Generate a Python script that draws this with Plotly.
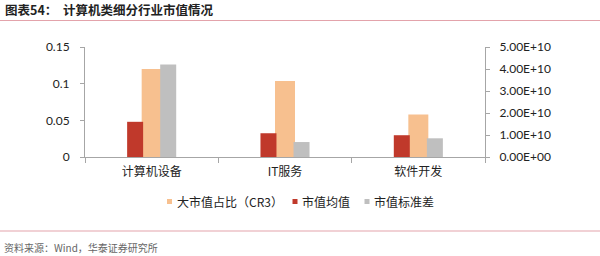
import plotly.graph_objects as go

categories = ["计算机设备", "IT服务", "软件开发"]
cr3_share = [0.120, 0.1035, 0.058]          # 大市值占比（CR3）, left axis
mcap_mean = [1.60e10, 1.08e10, 0.99e10]     # 市值均值, right axis
mcap_std = [4.21e10, 0.68e10, 0.85e10]      # 市值标准差, right axis
left_ticks = [0, 0.05, 0.1, 0.15]
left_ticktext = ["0", "0.05", "0.1", "0.15"]
right_ticks = [0, 1e10, 2e10, 3e10, 4e10, 5e10]

C_ORANGE = "#f7c08f"
C_RED = "#c0392b"
C_GREY = "#bfbfbf"
AX = "#a6a6a6"
NUM_FONT = "Lato, Liberation Sans, sans-serif"
CJK = "Noto Sans CJK SC, sans-serif"

# plot area in px
L, R, T, B = 85, 485, 47, 157
W, H = 600, 256
def px(x):
    return (x - L) / (R - L)
def py(y):
    return (B - y) / (B - T)

fig = go.Figure()
fig.add_trace(go.Bar(x=categories, y=cr3_share, name="大市值占比（CR3）",
                     marker=dict(color=C_ORANGE, line=dict(width=0)),
                     width=0.15, offset=-0.075, yaxis="y", showlegend=False))
fig.add_trace(go.Bar(x=categories, y=mcap_mean, name="市值均值",
                     marker=dict(color=C_RED, line=dict(width=0)),
                     width=0.12, offset=-0.184, yaxis="y2", showlegend=False))
fig.add_trace(go.Bar(x=categories, y=mcap_std, name="市值标准差",
                     marker=dict(color=C_GREY, line=dict(width=0)),
                     width=0.12, offset=0.064, yaxis="y2", showlegend=False))

shapes = []
annotations = []

# title and rules
annotations.append(dict(text="<b>图表54：  计算机类细分行业市值情况</b>", xref="paper", yref="paper",
                        x=px(3), y=py(10), xanchor="left", yanchor="middle", showarrow=False,
                        font=dict(family=CJK, size=12.5, color="#222222")))
shapes.append(dict(type="line", xref="paper", yref="paper", x0=px(0), x1=px(600),
                   y0=py(20.5), y1=py(20.5), line=dict(color="#e3a3ab", width=1.2)))
shapes.append(dict(type="line", xref="paper", yref="paper", x0=px(0), x1=px(600),
                   y0=py(231), y1=py(231), line=dict(color="#e3a3ab", width=1.2)))
annotations.append(dict(text="资料来源：Wind，华泰证券研究所", xref="paper", yref="paper",
                        x=px(2), y=py(247.5), xanchor="left", yanchor="middle", showarrow=False,
                        font=dict(family=CJK, size=10, color="#666666")))

# legend (manual)
legend_items = [("大市值占比（CR3）", C_ORANGE, 167), ("市值均值", C_RED, 292.5), ("市值标准差", C_GREY, 364.5)]
for label, col, x0 in legend_items:
    shapes.append(dict(type="rect", xref="paper", yref="paper", x0=px(x0), x1=px(x0 + 5),
                       y0=py(204), y1=py(199), fillcolor=col, line=dict(width=0)))
    annotations.append(dict(text=label, xref="paper", yref="paper", x=px(x0 + 7.5), y=py(201.7),
                            xanchor="left", yanchor="middle", showarrow=False,
                            font=dict(family=CJK, size=12, color="#222222")))

fig.update_layout(
    width=W, height=H,
    margin=dict(l=L, r=W - R, t=T, b=H - B, pad=0),
    paper_bgcolor="white", plot_bgcolor="white",
    barmode="overlay",
    showlegend=False,
    shapes=shapes, annotations=annotations,
    xaxis=dict(type="category", showline=True, linecolor=AX, linewidth=1,
               ticks="outside", tickson="boundaries", ticklen=5, tickcolor=AX,
               showgrid=False, zeroline=False,
               tickfont=dict(family=CJK, size=12, color="#222222"), ticklabelstandoff=4),
    yaxis=dict(range=[0, 0.15], tickvals=left_ticks, ticktext=left_ticktext,
               showline=True, linecolor=AX, linewidth=1, ticks="outside", ticklen=4,
               tickcolor=AX, showgrid=False, zeroline=False,
               tickfont=dict(family=NUM_FONT, size=12, color="#222222"), ticklabelstandoff=8),
    yaxis2=dict(range=[0, 5e10], tickvals=right_ticks,
                ticktext=["{:.2E}".format(v) for v in right_ticks],
                overlaying="y", side="right", anchor="x",
                showline=True, linecolor=AX, linewidth=1, ticks="outside", ticklen=4,
                tickcolor=AX, showgrid=False, zeroline=False,
                tickfont=dict(family=NUM_FONT, size=12, color="#222222"), ticklabelstandoff=7),
)

fig.write_html("out.html")
